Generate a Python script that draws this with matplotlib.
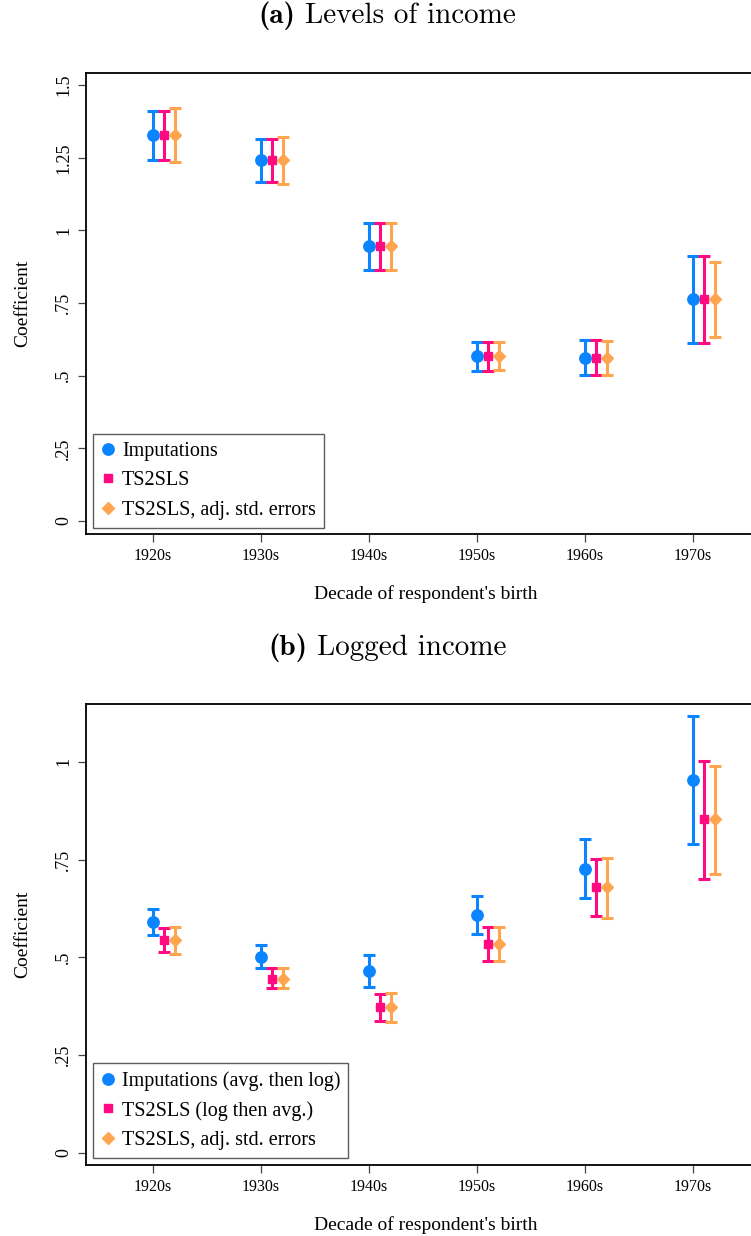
import numpy as np
import matplotlib
matplotlib.use('Agg')
import matplotlib.pyplot as plt
from matplotlib.lines import Line2D
from matplotlib.offsetbox import TextArea, HPacker, AnnotationBbox

plt.rcParams['font.family'] = ['Liberation Serif', 'DejaVu Serif']

decades = ['1920s', '1930s', '1940s', '1950s', '1960s', '1970s']

# (a) levels of income
imp_a = [1.328, 1.242, 0.946, 0.568, 0.561, 0.763]
imp_a_lo = [1.243, 1.167, 0.863, 0.517, 0.501, 0.612]
imp_a_hi = [1.411, 1.316, 1.026, 0.617, 0.622, 0.911]
ts_a = [1.328, 1.242, 0.946, 0.568, 0.561, 0.763]
ts_a_lo = [1.243, 1.167, 0.863, 0.517, 0.501, 0.612]
ts_a_hi = [1.411, 1.316, 1.026, 0.617, 0.622, 0.911]
adj_a_lo = [1.234, 1.160, 0.863, 0.518, 0.501, 0.634]
adj_a_hi = [1.421, 1.321, 1.026, 0.615, 0.621, 0.890]

# (b) logged income
imp_b = [0.591, 0.502, 0.465, 0.609, 0.726, 0.954]
imp_b_lo = [0.558, 0.474, 0.425, 0.561, 0.651, 0.790]
imp_b_hi = [0.624, 0.531, 0.506, 0.657, 0.804, 1.118]
ts_b = [0.544, 0.446, 0.373, 0.534, 0.679, 0.853]
ts_b_lo = [0.513, 0.421, 0.338, 0.491, 0.606, 0.701]
ts_b_hi = [0.575, 0.473, 0.407, 0.577, 0.751, 1.002]
adj_b_lo = [0.509, 0.421, 0.335, 0.490, 0.601, 0.714]
adj_b_hi = [0.578, 0.473, 0.410, 0.578, 0.755, 0.990]

BLUE = '#0a84ff'
PINK = '#ff0a80'
ORANGE = '#ffa54f'


def draw_panel(ax, series, labels, yticks, yticklabels, ylim, legend_anchor):
    x = np.arange(1, len(decades) + 1)
    styles = [(BLUE, 'o', 8.2), (PINK, 's', 5.5), (ORANGE, 'D', 5.8)]
    handles = []
    for k, ((est, lo, hi), (col, mk, ms)) in enumerate(zip(series, styles)):
        est = np.array(est)
        err = np.vstack([est - np.array(lo), np.array(hi) - est])
        ax.errorbar(x + 0.1 * k, est, yerr=err, fmt=mk, color=col, ms=ms,
                    elinewidth=2.2, capsize=4, capthick=2.2, mec=col)
        handles.append(Line2D([], [], ls='', marker=mk, color=col, ms=ms))

    ax.set_xlim(0.38, 6.676)
    ax.set_ylim(*ylim)
    ax.set_xticks(x)
    ax.set_xticklabels(decades, fontsize=11.5)
    ax.set_yticks(yticks)
    ax.set_yticklabels(yticklabels, fontsize=13, rotation=90, va='center')
    ax.tick_params(length=6, width=0.9, color='#444444')
    ax.tick_params(axis='y', pad=4)
    ax.tick_params(axis='x', pad=4)
    for s in ax.spines.values():
        s.set_linewidth(1.3)
    ax.set_ylabel('Coefficient', fontsize=14, labelpad=17)
    ax.set_xlabel("Decade of respondent's birth", fontsize=14, labelpad=15)
    leg = ax.legend(handles, labels, loc='lower left', bbox_to_anchor=legend_anchor,
                    borderaxespad=0, fontsize=14.5, frameon=True, fancybox=False,
                    handlelength=0.7, handletextpad=0.35, labelspacing=0.5,
                    borderpad=0.4)
    leg.get_frame().set_edgecolor('#333333')
    leg.get_frame().set_linewidth(1.0)


def panel_title(fig, tag, text, y):
    parts = [TextArea(tag, textprops=dict(family='cmb10', size=21)),
             TextArea(text, textprops=dict(family='cmr10', size=21))]
    box = HPacker(children=parts, align='baseline', pad=0, sep=7)
    ab = AnnotationBbox(box, (387 / 751, y), xycoords='figure fraction',
                        frameon=False, box_alignment=(0.5, 0.5))
    fig.add_artist(ab)


fig = plt.figure(figsize=(7.51, 12.36), dpi=100)

ax1 = fig.add_axes([86 / 751, 0.568, 680 / 751, 0.3730])
draw_panel(ax1,
           [(imp_a, imp_a_lo, imp_a_hi), (ts_a, ts_a_lo, ts_a_hi), (ts_a, adj_a_lo, adj_a_hi)],
           ['Imputations', 'TS2SLS', 'TS2SLS, adj. std. errors'],
           [0, 0.25, 0.5, 0.75, 1, 1.25, 1.5], ['0', '.25', '.5', '.75', '1', '1.25', '1.5'],
           (-0.0447, 1.542), (6.7 / 680, 6.3 / 461))

ax2 = fig.add_axes([86 / 751, 0.0574, 680 / 751, 0.3730])
draw_panel(ax2,
           [(imp_b, imp_b_lo, imp_b_hi), (ts_b, ts_b_lo, ts_b_hi), (ts_b, adj_b_lo, adj_b_hi)],
           ['Imputations (avg. then log)', 'TS2SLS (log then avg.)', 'TS2SLS, adj. std. errors'],
           [0, 0.25, 0.5, 0.75, 1], ['0', '.25', '.5', '.75', '1'],
           (-0.0307, 1.148), (6.7 / 680, 7.3 / 461))

panel_title(fig, '(a)', 'Levels of income', 1 - 16 / 1236)
panel_title(fig, '(b)', 'Logged income', 1 - 648 / 1236)

fig.savefig('out.png', dpi=100)
